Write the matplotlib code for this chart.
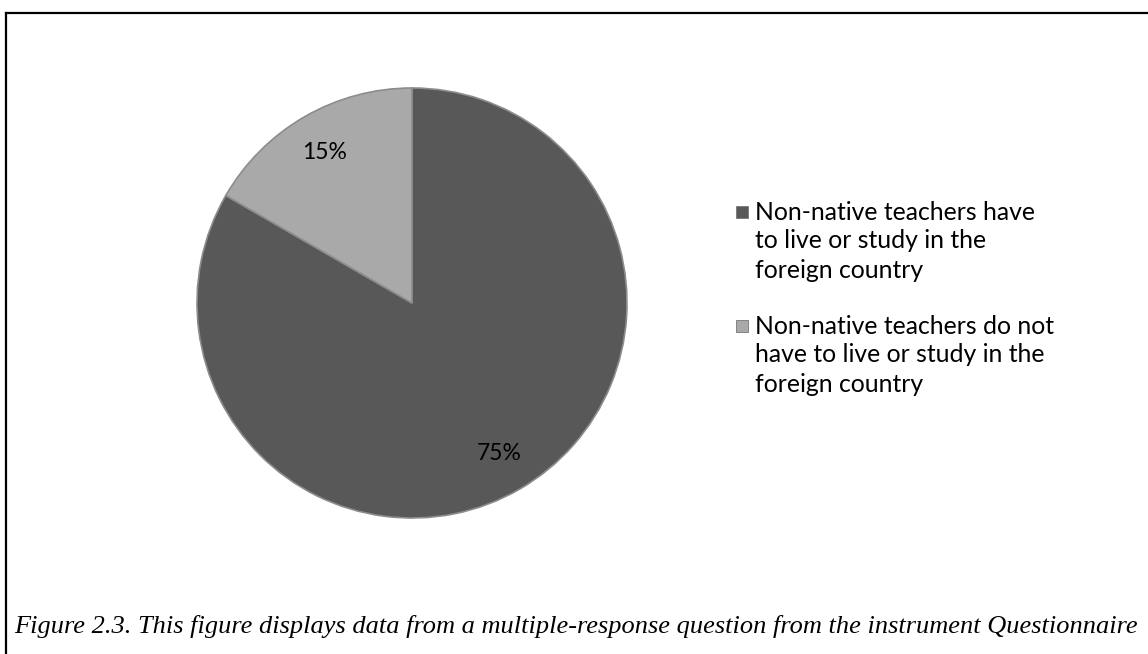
import matplotlib
matplotlib.use("Agg")
import matplotlib.pyplot as plt
from matplotlib.lines import Line2D

# Data
labels = ["Non-native teachers have\nto live or study in the\nforeign country",
          "Non-native teachers do not\nhave to live or study in the\nforeign country"]
values = [75, 15]
colors = ["#585858", "#a9a9a9"]
caption = ("Figure 2.3. This figure displays data from a multiple-response question "
           "from the instrument Questionnaire")

W, H = 1148, 654
fig = plt.figure(figsize=(W / 100, H / 100), dpi=100)

# frame lines (top and left)
fig.add_artist(Line2D([6 / W, 1.0], [1 - 13 / H, 1 - 13 / H], color="black", lw=1.6))
fig.add_artist(Line2D([6 / W, 6 / W], [1 - 13 / H, 0.0], color="black", lw=1.6))

cx, cy, r = 412, 303, 215
ax = fig.add_axes([(cx - r) / W, 1 - (cy + r) / H, 2 * r / W, 2 * r / H])
wedges, texts = ax.pie(values, colors=colors, startangle=90, counterclock=False,
                       labels=[f"{v}%" for v in values], labeldistance=0.81,
                       wedgeprops=dict(edgecolor="#8c8c8c", linewidth=1.2),
                       textprops=dict(fontsize=16.5, family="Lato", color="black",
                                      ha="center", va="center"))
ax.set_xlim(-1.0, 1.0)
ax.set_ylim(-1.0, 1.0)
ax.set_aspect("equal")
ax.axis("off")

# legend, drawn by hand so the marker sits on the first line of each entry
first_line_y = [212, 326]
pitch = 29
for c, lab, y0 in zip(colors, labels, first_line_y):
    fig.add_artist(Line2D([742 / W], [1 - y0 / H], marker="s", linestyle="none",
                          markersize=8, markerfacecolor=c,
                          markeredgecolor="#777777", markeredgewidth=0.6))
    for i, line in enumerate(lab.split("\n")):
        fig.text(755 / W, 1 - (y0 + i * pitch) / H, line, family="Lato",
                 fontsize=17.8, ha="left", va="center")

cap = fig.text(14 / W, 1 - 626 / H, caption, family="Liberation Serif", style="italic",
               fontsize=18, ha="left", va="center")
fig.canvas.draw()
ext = cap.get_window_extent()
cap.set_fontsize(18 * (1124 / ext.width))

fig.savefig("out.png", dpi=100)
